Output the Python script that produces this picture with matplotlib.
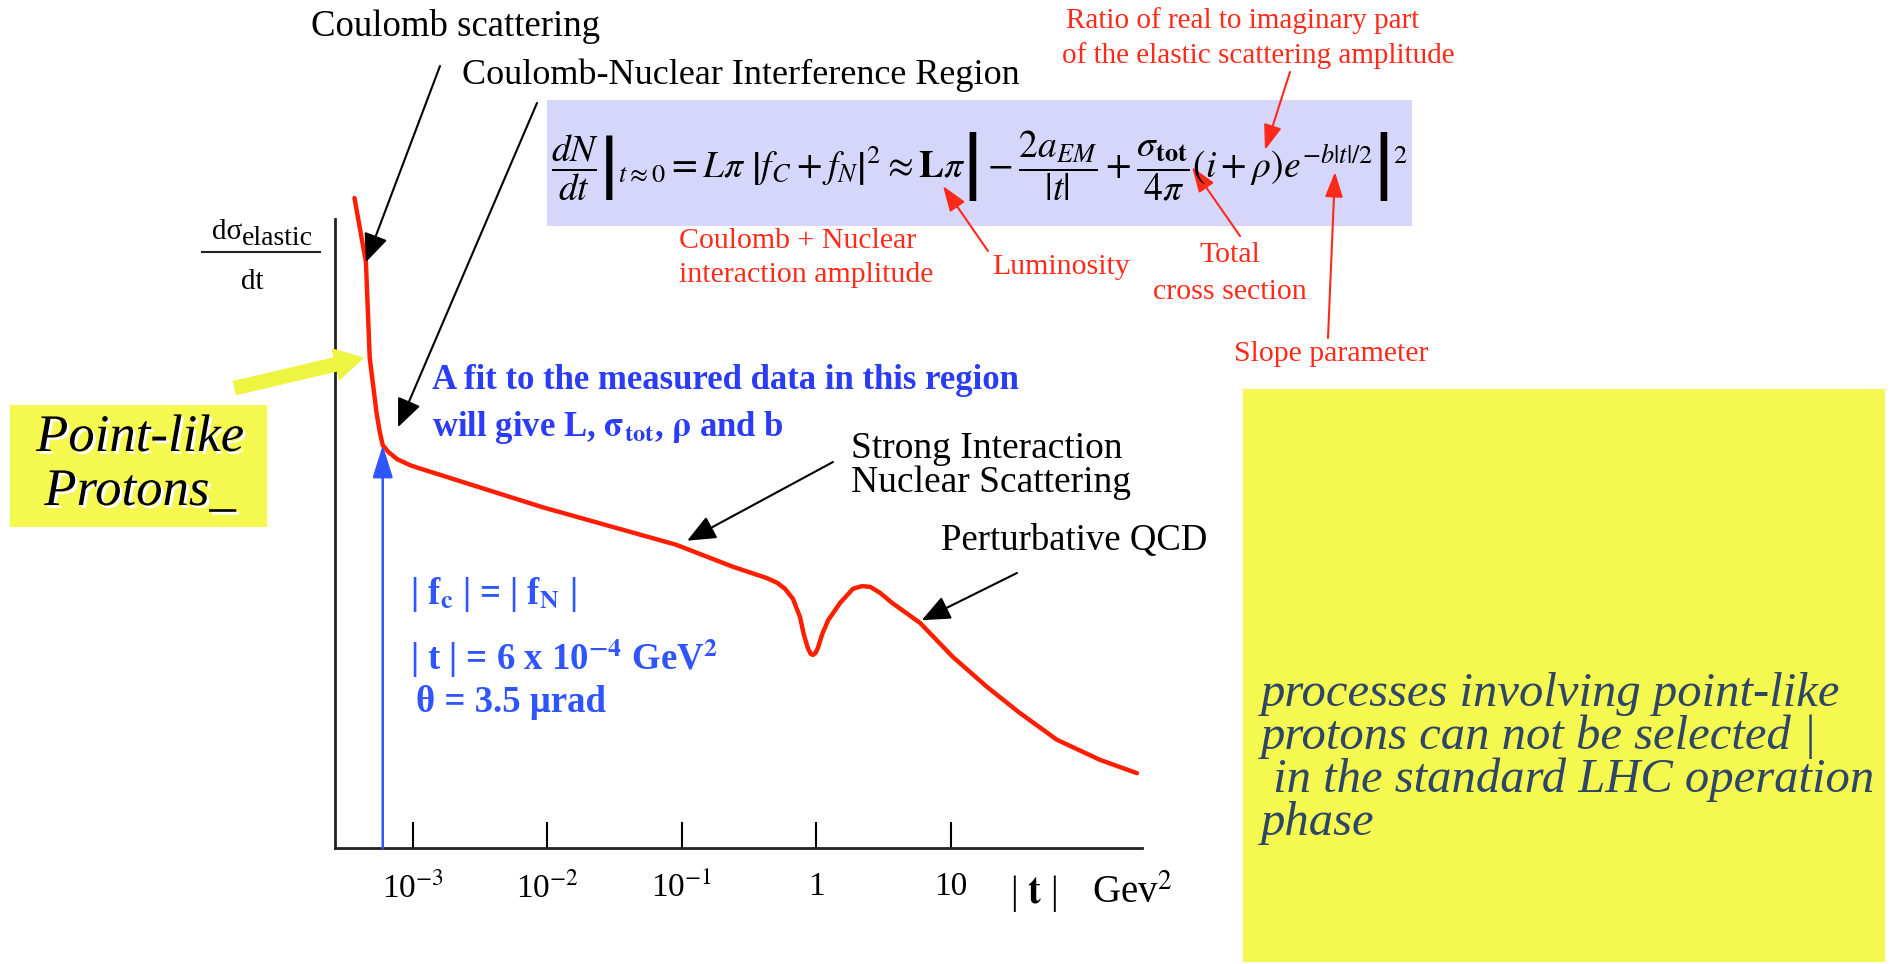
import numpy as np
import matplotlib
matplotlib.use('Agg')
from matplotlib import pyplot as plt
from matplotlib.patches import Rectangle, FancyArrowPatch
from matplotlib.transforms import Bbox
import matplotlib.patheffects as pe

plt.rcParams['font.family'] = ['Liberation Serif', 'DejaVu Serif']
plt.rcParams['mathtext.fontset'] = 'stix'

# |t| in GeV^2 and log of d(sigma)/dt in arbitrary units
t_vals = [3.7e-4, 4.5e-4, 4.8e-4, 5.4e-4, 5.7e-4, 6.0e-4, 6.6e-4, 7.7e-4, 9.6e-4, 1.1e-3,
          9.3e-3, 0.091, 0.241, 0.431, 0.514, 0.588, 0.673, 0.759, 0.812, 0.870,
          0.91, 0.948, 0.99, 1.03, 1.11, 1.23, 1.51, 1.88, 2.19, 2.52,
          2.99, 3.67, 5.93, 10.4, 18.7, 32.8, 61.8, 129, 243]
dsig_vals = [9.73, 8.77, 7.34, 6.51, 6.23, 6.03, 5.93, 5.82, 5.73, 5.69,
             5.10, 4.54, 4.21, 4.04, 3.97, 3.88, 3.73, 3.46, 3.19, 2.99,
             2.91, 2.89, 2.92, 2.99, 3.20, 3.41, 3.67, 3.88, 3.92, 3.91,
             3.82, 3.67, 3.37, 2.86, 2.41, 2.02, 1.62, 1.32, 1.12]

tick_pos = [1e-3, 1e-2, 1e-1, 1, 10]
tick_lbl = ['10$^{-3}$', '10$^{-2}$', '10$^{-1}$', '1', '10']

t_cni = 6e-4      # |f_c| = |f_N|
y_cni = 6.03

W, H = 1892, 964
RED = '#ff2a1a'
BLUE = '#2a3cf5'
BLUE2 = '#2f55ff'
YEL = '#f5f84e'


def fp(x, y):
    # pixel position (origin top-left) -> figure fraction
    return x / W, 1 - y / H


fig = plt.figure(figsize=(W / 100, H / 100), dpi=100)
fig.patch.set_facecolor('white')

ax = fig.add_axes([335 / W, 1 - 848 / H, (1142 - 335) / W, (848 - 180) / H])
ax.set_xscale('log')
ax.set_xlim(2.65e-4, 265)
ax.set_ylim(0, 10)
ax.patch.set_alpha(0)
for s in ['top', 'right']:
    ax.spines[s].set_visible(False)
ax.spines['left'].set_bounds(0, 9.42)
ax.spines['left'].set_linewidth(2)
ax.spines['bottom'].set_linewidth(2)
ax.spines['left'].set_color('#222222')
ax.spines['bottom'].set_color('#222222')
ax.set_yticks([])
ax.set_xticks(tick_pos)
ax.set_xticklabels(tick_lbl)
ax.xaxis.set_minor_locator(matplotlib.ticker.NullLocator())
ax.tick_params(axis='x', direction='in', length=19, width=1.5, pad=17, labelsize=24)

ax.plot(t_vals, dsig_vals, color='#ff1f00', lw=3.2, solid_joinstyle='round', solid_capstyle='round')

# blue arrow marking the interference point
ax.annotate('', xy=(t_cni, y_cni), xytext=(t_cni, 0),
            arrowprops=dict(arrowstyle='-|>,head_length=0.8,head_width=0.25', color=BLUE2,
                            lw=1.8, mutation_scale=25, shrinkA=0, shrinkB=0))

# axis label
lbl = fig.text(*fp(242, 239), 'd\u03c3', fontsize=21, ha='right', va='baseline')
lbl.set_clip_box(Bbox.from_extents(202, 0, 600, H))
lbl.set_clip_on(True)
fig.text(*fp(242, 245), 'elastic', fontsize=20, ha='left', va='baseline')
fig.add_artist(plt.Line2D([202 / W, 320 / W], [1 - 252 / H] * 2, color='#222222', lw=1.5))
fig.text(*fp(252, 282), 'dt', fontsize=21, ha='center', va='center')

fig.text(*fp(1010, 893), r'| $\mathbf{t}$ |', fontsize=28, ha='left', va='center')
fig.text(*fp(1092, 893), r'Gev$^2$', fontsize=28, ha='left', va='center')


def note_arrow(tip, tail, style, tip_coords='figure fraction'):
    ax.annotate('', xy=tip, xycoords=tip_coords, xytext=tail, textcoords='figure fraction',
                arrowprops=style, annotation_clip=False)


# black annotations
blk = dict(arrowstyle='-|>,head_length=0.7,head_width=0.3', color='black', lw=1.5,
           mutation_scale=25, shrinkA=0, shrinkB=0)
fig.text(*fp(311, 27), 'Coulomb scattering', fontsize=26.5, va='center')
note_arrow((t_vals[1], dsig_vals[1]), fp(440, 66), blk, 'data')
fig.text(*fp(462, 75), 'Coulomb-Nuclear Interference Region', fontsize=26, va='center')
note_arrow((7.8e-4, 6.3), fp(537, 103), blk, 'data')
fig.text(*fp(851, 449), 'Strong Interaction', fontsize=27, va='center')
fig.text(*fp(851, 483), 'Nuclear Scattering', fontsize=27, va='center')
note_arrow((0.11, 4.6), fp(833, 462), blk, 'data')
fig.text(*fp(941, 541), 'Perturbative QCD', fontsize=26.5, va='center')
note_arrow((6.1, 3.41), fp(1017, 573), blk, 'data')

# formula box
fig.add_artist(Rectangle(fp(547, 226), 865 / W, 126 / H, transform=fig.transFigure,
                         facecolor='#d6d6fa', edgecolor='none', zorder=0))
formula = (r'$\left.\dfrac{dN}{dt}\right|_{t\approx 0} = L\pi\ \left|f_C + f_N\right|^2 \approx '
           r'\mathbf{L}\pi\left|-\dfrac{2a_{EM}}{|t|} + \dfrac{\sigma_{\mathbf{tot}}}{4\pi}'
           r'(i+\rho)e^{-b|t|/2}\right|^2$')
fig.text(*fp(980, 166), formula, fontsize=27, ha='center', va='center')

# red annotations
red = dict(arrowstyle='-|>,head_length=0.7,head_width=0.25', color=RED, lw=1.5,
           mutation_scale=22, shrinkA=0, shrinkB=0)
fig.text(*fp(1066, 21), 'Ratio of real to imaginary part', fontsize=21, color=RED, va='center')
fig.text(*fp(1062, 56), 'of the elastic scattering amplitude', fontsize=21, color=RED, va='center')
note_arrow(fp(1265, 150), fp(1290, 72), red)
fig.text(*fp(679, 241), 'Coulomb + Nuclear', fontsize=21.5, color=RED, va='center')
fig.text(*fp(679, 275), 'interaction amplitude', fontsize=21.5, color=RED, va='center')
fig.text(*fp(992, 267), 'Luminosity', fontsize=21.5, color=RED, va='center')
note_arrow(fp(943, 186), fp(988, 251), red)
fig.text(*fp(1230, 255), 'Total', fontsize=21.5, color=RED, ha='center', va='center')
fig.text(*fp(1230, 292), 'cross section', fontsize=21.5, color=RED, ha='center', va='center')
note_arrow(fp(1192, 167), fp(1240, 236), red)
fig.text(*fp(1331, 354), 'Slope parameter', fontsize=21.5, color=RED, ha='center', va='center')
note_arrow(fp(1335, 172), fp(1328, 338), red)

# blue notes
fig.text(*fp(432, 381), 'A fit to the measured data in this region', fontsize=25, color=BLUE,
         fontweight='bold', va='center')
fig.text(*fp(432, 428), r'will give L, $\mathbf{\sigma_{tot}}$, $\mathbf{\rho}$ and b', fontsize=25,
         color=BLUE, fontweight='bold', va='center')
fig.text(*fp(410, 595), r'| f$_\mathbf{c}$ | = | f$_\mathbf{N}$ |', fontsize=26.5, color=BLUE2,
         fontweight='bold', va='center')
fig.text(*fp(410, 658), r'| t | = 6 x 10$^{\mathbf{-4}}$ GeV$^{\mathbf{2}}$', fontsize=26.5, color=BLUE2,
         fontweight='bold', va='center')
fig.text(*fp(416, 703), '\u03b8 = 3.5 \u03bcrad', fontsize=26.5, color=BLUE2, fontweight='bold', va='center')

# yellow call-outs
fig.add_artist(Rectangle(fp(10, 527), 257 / W, 122 / H, transform=fig.transFigure,
                         facecolor=YEL, edgecolor='none', zorder=0))
shadow = [pe.withSimplePatchShadow(offset=(2, -2), shadow_rgbFace='white', alpha=1.0)]
fig.text(*fp(140, 438), 'Point-like', fontsize=38, style='italic', ha='center', va='center',
         path_effects=shadow)
fig.text(*fp(140, 492), 'Protons_', fontsize=38, style='italic', ha='center', va='center',
         path_effects=shadow)
fig.add_artist(FancyArrowPatch(fp(235, 388), fp(363, 358), transform=fig.transFigure,
                               arrowstyle='simple,head_length=1.25,head_width=1.4,tail_width=0.6',
                               mutation_scale=16, color='#eef540', shrinkA=0, shrinkB=0))

fig.add_artist(Rectangle(fp(1243, 962), (1885 - 1243) / W, (962 - 389) / H, transform=fig.transFigure,
                         facecolor=YEL, edgecolor='none', zorder=0))
note_lines = ['processes involving point-like', 'protons can not be selected |',
              ' in the standard LHC operation', 'phase']
for i, line in enumerate(note_lines):
    fig.text(*fp(1261, 694 + 43 * i), line, fontsize=35, style='italic', color='#2d4566', va='center')

fig.savefig('out.png', dpi=100)
